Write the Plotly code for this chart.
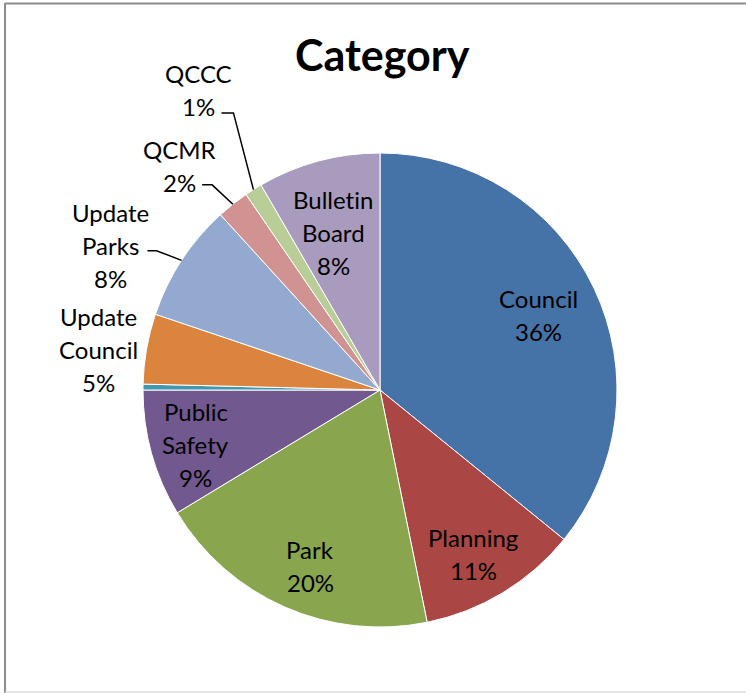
import math
import plotly.graph_objects as go

# Category breakdown (share of items per category), drawn clockwise from 12 o'clock
categories = ["Council", "Planning", "Park", "Public Safety", "Other",
              "Update Council", "Update Parks", "QCMR", "QCCC", "Bulletin Board"]
shares = [36.0, 11.0, 19.6, 8.7, 0.4, 4.8, 8.1, 2.2, 1.2, 8.4]
colors = ["#4572A7", "#AA4643", "#89A54E", "#71588F", "#4198AF",
          "#DB843D", "#93A9CF", "#D19392", "#B9CD96", "#A99BBD"]
title_text = "Category"

# Canvas and pie geometry (pixels)
W, H = 746, 693
CX, CY, R = 380, 390, 237
FONT = "Lato, 'Liberation Sans', Arial, sans-serif"
LINE_GAP = 33

# Label placement: (radius factor, angle offset in degrees from slice mid-angle)
label_place = {
    "Council": (0.74, 0.0),
    "Planning": (0.795, 1.6),
    "Park": (0.80, -2.0),
    "Public Safety": (0.81, -0.8),
    "Update Council": (1.20, -1.9),
    "Update Parks": (1.29, -5.0),
    "QCMR": (1.27, -3.5),
    "QCCC": (1.48, 1.1),
    "Bulletin Board": (0.695, -1.5),
}
# Leader lines for outside labels: (end dx, elbow dx, dy) relative to label centre
leaders = {
    "Update Parks": (37, 46, 5),
    "QCMR": (23, 33, 19),
    "QCCC": (23, 35, 23),
}


def px(x):
    return x / W


def py(y):
    return 1 - y / H


def polar(angle_deg, radius):
    a = math.radians(angle_deg)
    return CX + radius * math.sin(a), CY - radius * math.cos(a)


def no_ligature(word):
    # keep "t" + "i" as separate glyphs
    return word.replace("ti", "t\u200ci")


fig = go.Figure(go.Pie(
    labels=categories,
    values=shares,
    sort=False,
    direction="clockwise",
    rotation=0,
    marker=dict(colors=colors, line=dict(color="white", width=1)),
    textinfo="none",
    hoverinfo="label+percent",
    showlegend=False,
    domain=dict(x=[px(CX - R), px(CX + R)], y=[py(CY + R), py(CY - R)]),
))

annotations = []
shapes = []
total = sum(shares)
cum = 0.0
for name, val in zip(categories, shares):
    mid = (cum + val / 2) / total * 360
    cum += val
    if name not in label_place:
        continue
    rf, off = label_place[name]
    lx, ly = polar(mid + off, R * rf)
    lines = [no_ligature(w) for w in name.split(" ")] + [f"{round(100 * val / total)}%"]
    n = len(lines)
    for i, t in enumerate(lines):
        yy = ly + (i - (n - 1) / 2) * LINE_GAP
        annotations.append(dict(
            x=px(lx), y=py(yy), xref="paper", yref="paper",
            text=t, showarrow=False, xanchor="center", yanchor="middle",
            font=dict(family=FONT, size=24, color="black"),
        ))
    if name in leaders:
        edx, bdx, dy = leaders[name]
        ex, ey = polar(mid, R)
        path = (f"M {px(ex)},{py(ey)} L {px(lx + bdx)},{py(ly + dy)} "
                f"L {px(lx + edx)},{py(ly + dy)}")
        shapes.append(dict(type="path", xref="paper", yref="paper", path=path,
                           line=dict(color="black", width=1.5)))

annotations.append(dict(
    x=px(382), y=py(54), xref="paper", yref="paper", text=f"<b>{title_text}</b>",
    showarrow=False, xanchor="center", yanchor="middle",
    font=dict(family=FONT, size=43, color="black"),
))

# Chart area frame
shapes += [
    dict(type="line", xref="paper", yref="paper", x0=px(5), x1=px(5), y0=py(3), y1=py(693),
         line=dict(color="#8c8c8c", width=2)),
    dict(type="line", xref="paper", yref="paper", x0=px(5), x1=1, y0=py(3.5), y1=py(3.5),
         line=dict(color="#8c8c8c", width=2)),
    dict(type="line", xref="paper", yref="paper", x0=px(5), x1=1, y0=py(692), y1=py(692),
         line=dict(color="#dcdcdc", width=1.5)),
]

fig.update_layout(
    width=W, height=H,
    margin=dict(l=0, r=0, t=0, b=0),
    paper_bgcolor="white",
    plot_bgcolor="white",
    annotations=annotations,
    shapes=shapes,
)

fig.write_html("out.html")
